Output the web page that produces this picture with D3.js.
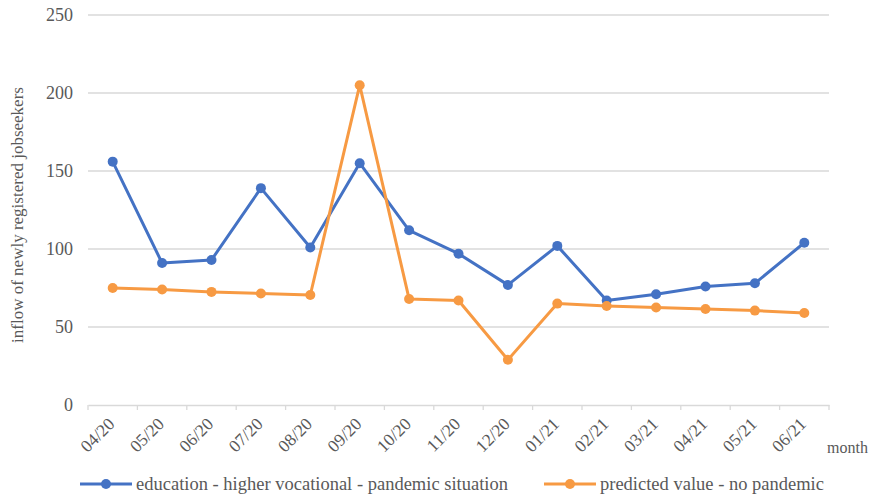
<!DOCTYPE html>
<html>
<head>
<meta charset="utf-8">
<script src="https://cdn.jsdelivr.net/npm/d3@7"></script>
<style>
  body { margin: 0; background: #fff; }
  text { font-family: "Liberation Serif", "Times New Roman", serif; fill: #595959; }
</style>
</head>
<body>
<svg id="chart" width="873" height="498"></svg>
<script>
const months = ["04/20","05/20","06/20","07/20","08/20","09/20","10/20","11/20","12/20","01/21","02/21","03/21","04/21","05/21","06/21"];
const pandemic = [156, 91, 93, 139, 101, 155, 112, 97, 77, 102, 67, 71, 76, 78, 104];
const predicted = [75, 74, 72.5, 71.5, 70.5, 205, 68, 67, 29, 65, 63.5, 62.5, 61.5, 60.5, 59];
const yTicks = [0, 50, 100, 150, 200, 250];
const seriesNames = ["education - higher vocational - pandemic situation", "predicted value - no pandemic"];
const colors = ["#4472C4", "#F79A43"];

const svg = d3.select("#chart");
const plotLeft = 88, plotRight = 829, plotTop = 15, plotBottom = 405;

const x = d3.scaleBand().domain(months).range([plotLeft, plotRight]);
const y = d3.scaleLinear().domain([0, 250]).range([plotBottom, plotTop]);

// horizontal gridlines
svg.append("g").selectAll("line").data(yTicks.filter(d => d > 0)).join("line")
  .attr("x1", plotLeft).attr("x2", plotRight)
  .attr("y1", d => y(d)).attr("y2", d => y(d))
  .attr("stroke", "#d9d9d9").attr("stroke-width", 1.3);

// y tick labels
svg.append("g").selectAll("text").data(yTicks).join("text")
  .attr("x", 73).attr("y", d => y(d)).attr("dy", "0.35em")
  .attr("text-anchor", "end").attr("font-size", 18).text(d => d);

// category axis with tick marks
const xAxis = svg.append("g").attr("transform", `translate(0,${plotBottom})`)
  .call(d3.axisBottom(x).tickSize(0).tickFormat(""));
xAxis.select(".domain").attr("stroke", "#d9d9d9").attr("stroke-width", 1.3);
const boundaries = months.map(m => x(m)).concat([plotRight]);
xAxis.selectAll("line.bound").data(boundaries).join("line").attr("class", "bound")
  .attr("x1", d => d).attr("x2", d => d).attr("y1", 0).attr("y2", 5)
  .attr("stroke", "#d9d9d9").attr("stroke-width", 1.3);

// rotated month labels
svg.append("g").selectAll("text").data(months).join("text")
  .attr("text-anchor", "end").attr("font-size", 17.5)
  .attr("transform", d => `translate(${x(d) + x.bandwidth() / 2 + 3},${plotBottom + 20}) rotate(-45)`)
  .text(d => d);

// axis titles
svg.append("text").attr("font-size", 17).attr("text-anchor", "middle")
  .attr("transform", `translate(23,${(plotTop + plotBottom) / 2 + 5}) rotate(-90)`)
  .text("inflow of newly registered jobseekers");
svg.append("text").attr("x", 827).attr("y", 453).attr("font-size", 16).text("month");

// series lines and markers
const cx = d => x(d) + x.bandwidth() / 2;
[pandemic, predicted].forEach((vals, i) => {
  const pts = months.map((m, j) => [cx(m), y(vals[j])]);
  svg.append("path").attr("d", d3.line()(pts))
    .attr("fill", "none").attr("stroke", colors[i]).attr("stroke-width", 3)
    .attr("stroke-linejoin", "round");
  svg.append("g").selectAll("circle").data(pts).join("circle")
    .attr("cx", d => d[0]).attr("cy", d => d[1]).attr("r", 5)
    .attr("fill", colors[i]);
});

// legend
const legendItems = [{x: 80, name: seriesNames[0], c: colors[0]}, {x: 544, name: seriesNames[1], c: colors[1]}];
legendItems.forEach(it => {
  const g = svg.append("g").attr("transform", `translate(${it.x},484)`);
  g.append("line").attr("x1", 0).attr("x2", 52).attr("stroke", it.c).attr("stroke-width", 3);
  g.append("circle").attr("cx", 26).attr("r", 5).attr("fill", it.c);
  g.append("text").attr("x", 56).attr("dy", "0.35em").attr("font-size", 18.5).text(it.name);
});
</script>
</body>
</html>
